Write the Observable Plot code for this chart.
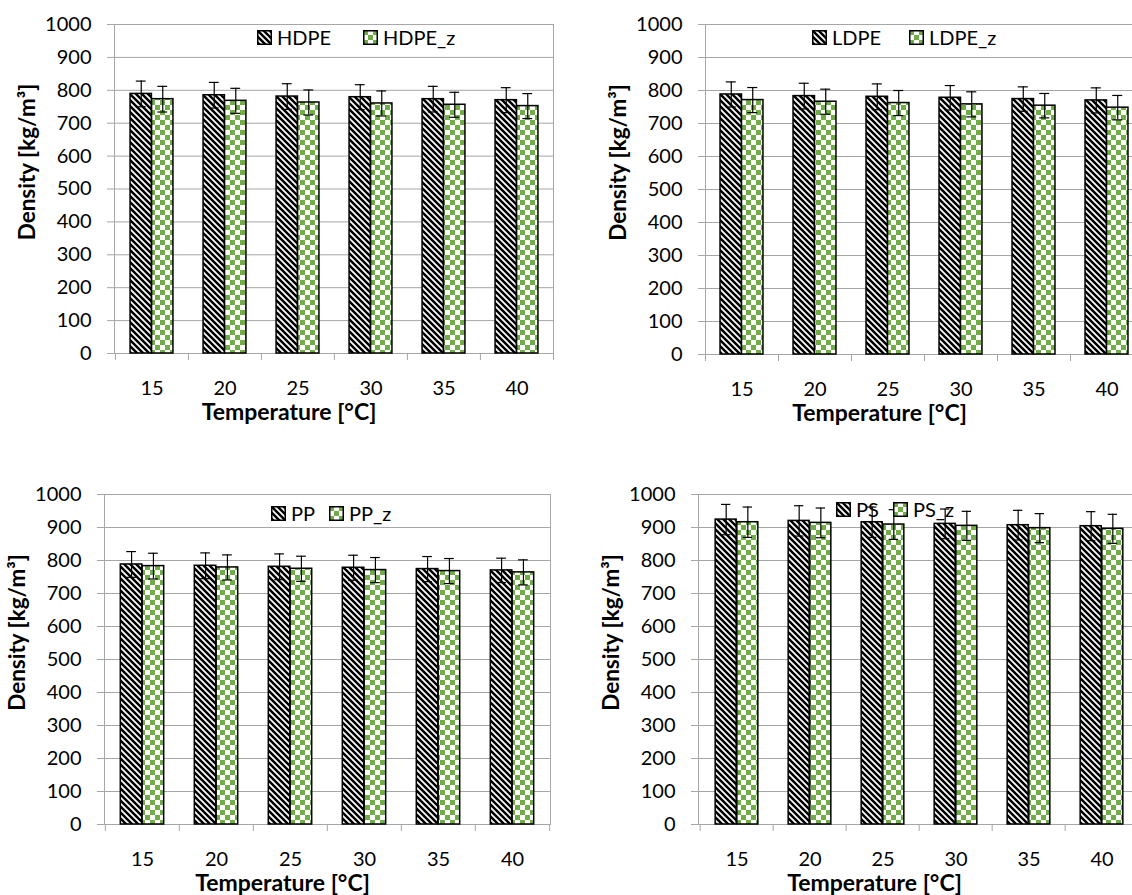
<!DOCTYPE html>
<html>
<head>
<meta charset="utf-8">
<script src="https://cdn.jsdelivr.net/npm/d3@7"></script>
<script src="https://cdn.jsdelivr.net/npm/@observablehq/plot@0.6"></script>
<style>
html, body { margin: 0; padding: 0; background: #fff; overflow: hidden; }
#root { position: relative; width: 1132px; height: 895px; overflow: hidden; font-family: Lato, "Open Sans", sans-serif; }
.panel { position: absolute; }
.panel svg { max-width: none !important; }
.legend-item { position: absolute; display: flex; align-items: center; height: 20px; font-size: 20px; color: #000; white-space: nowrap; line-height: 20px; font-family: Lato, sans-serif; }
.legend-item svg { margin-right: 5px; display: block; }
</style>
</head>
<body>
<svg width="0" height="0" style="position:absolute">
  <defs>
    <pattern id="hatch" patternUnits="userSpaceOnUse" width="6" height="6">
      <rect width="6" height="6" fill="#fff"/>
      <path d="M-1,-1 L7,7 M-1,5 L1,7 M5,-1 L7,1" stroke="#000" stroke-width="2.5"/>
    </pattern>
    <pattern id="checker" patternUnits="userSpaceOnUse" width="10" height="10">
      <rect width="10" height="10" fill="#fff"/>
      <rect width="5" height="5" fill="#70ad47"/>
      <rect x="5" y="5" width="5" height="5" fill="#70ad47"/>
    </pattern>
  </defs>
</svg>
<div id="root"></div>
<script>
// ---- data ----
const temps = ["15", "20", "25", "30", "35", "40"];
const yTicks = [0, 100, 200, 300, 400, 500, 600, 700, 800, 900, 1000];
const xTitle = "Temperature [°C]";
const yTitle = "Density [kg/m³]";

const seriesNames = [["HDPE", "HDPE_z"], ["LDPE", "LDPE_z"], ["PP", "PP_z"], ["PS", "PS_z"]];

const hdpe      = [789, 785, 781, 779, 773, 770];
const hdpeErr   = [39, 39, 39, 38, 39, 38];
const hdpeZ     = [773, 768, 763, 760, 756, 752];
const hdpeZErr  = [39, 38, 38, 38, 38, 38];

const ldpe      = [788, 783, 781, 778, 774, 770];
const ldpeErr   = [38, 39, 39, 37, 37, 38];
const ldpeZ     = [771, 766, 762, 758, 754, 748];
const ldpeZErr  = [38, 38, 38, 38, 37, 37];

const pp        = [788, 784, 781, 778, 774, 770];
const ppErr     = [39, 39, 39, 38, 38, 37];
const ppZ       = [783, 779, 775, 771, 768, 764];
const ppZErr    = [39, 38, 38, 38, 38, 38];

const ps        = [924, 920, 916, 911, 907, 904];
const psErr     = [46, 46, 46, 45, 45, 44];
const psZ       = [916, 914, 909, 905, 898, 896];
const psZErr    = [46, 45, 45, 44, 44, 44];

const panelValues = [
  [[hdpe, hdpeErr], [hdpeZ, hdpeZErr]],
  [[ldpe, ldpeErr], [ldpeZ, ldpeZErr]],
  [[pp, ppErr], [ppZ, ppZErr]],
  [[ps, psErr], [psZ, psZErr]]
];

// ---- layout ----
const layouts = [
  {left: 0,   top: 0,   W: 566, H: 430, ml: 114, mr: 13, mt: 24, mb: 77, legend: [257, 363], legendY: 37},
  {left: 566, top: 0,   W: 590, H: 430, ml: 139, mr: 13, mt: 24, mb: 76, legend: [812, 909], legendY: 37},
  {left: 0,   top: 470, W: 566, H: 425, ml: 104, mr: 16, mt: 24, mb: 71, legend: [271, 329], legendY: 513},
  {left: 566, top: 470, W: 590, H: 425, ml: 132, mr: 16, mt: 24, mb: 71, legend: [836, 893], legendY: 509}
];
const patterns = ["url(#hatch)", "url(#checker)"];
const gray = "#a6a6a6";

const root = document.getElementById("root");

function rows(vals, errs) {
  return temps.map((t, i) => ({temp: t, value: vals[i], err: errs[i]}));
}

layouts.forEach((L, pi) => {
  const b = (L.W - L.ml - L.mr) / temps.length;
  const group = b / 1.7;
  const p0 = (b - group) / 2;
  const w = group / 2;
  const cap = 5;

  const marks = [
    Plot.gridY({ticks: yTicks, stroke: gray, strokeOpacity: 1, strokeWidth: 1}),
    Plot.frame({stroke: gray, strokeWidth: 1})
  ];

  panelValues[pi].forEach(([vals, errs], si) => {
    const data = rows(vals, errs);
    const insL = si === 0 ? p0 : p0 + w;
    const insR = si === 0 ? p0 + w : p0;
    marks.push(
      Plot.barY(data, {x: "temp", y: "value", fill: patterns[si], stroke: "#000", strokeWidth: 1.5,
        insetLeft: insL, insetRight: insR})
    );
  });
  panelValues[pi].forEach(([vals, errs], si) => {
    const data = rows(vals, errs);
    const insL = si === 0 ? p0 : p0 + w;
    const center = insL + w / 2;
    marks.push(
      Plot.ruleX(data, {x: "temp", y1: d => d.value - d.err, y2: d => d.value + d.err,
        dx: center - b / 2, stroke: "#000", strokeWidth: 1.2}),
      Plot.tickY(data, {x: "temp", y: d => d.value + d.err, insetLeft: center - cap, insetRight: b - center - cap,
        stroke: "#000", strokeWidth: 1.2}),
      Plot.tickY(data, {x: "temp", y: d => d.value - d.err, insetLeft: center - cap, insetRight: b - center - cap,
        stroke: "#000", strokeWidth: 1.2})
    );
  });

  marks.push(
    Plot.axisY({ticks: yTicks, tickFormat: d => String(d), tickSize: 7, tickPadding: 16, fontSize: 20, stroke: gray, fill: "#000", label: null}),
    Plot.axisX({tickSize: 0, tickPadding: 27, fontSize: 20, fill: "#000", label: null}),
    Plot.axisX({tickSize: 7, tickFormat: () => "", dx: -b / 2, stroke: gray, label: null}),
    Plot.axisX({ticks: [temps[temps.length - 1]], tickSize: 7, tickFormat: () => "", dx: b / 2, stroke: gray, label: null}),
    Plot.text([xTitle], {frameAnchor: "bottom", lineAnchor: "middle", textAnchor: "middle", dy: 59, dx: -45,
      fontSize: 23, fontWeight: "bold", fill: "#000"}),
    Plot.text([yTitle], {frameAnchor: "left", lineAnchor: "middle", textAnchor: "middle", dx: -87, dy: -27, rotate: -90,
      fontSize: 22.5, fontWeight: "bold", fill: "#000"})
  );

  const chart = Plot.plot({
    width: L.W, height: L.H,
    marginLeft: L.ml, marginRight: L.mr, marginTop: L.mt, marginBottom: L.mb,
    style: {fontFamily: "Lato, sans-serif", fontSize: "20px", color: "#000", background: "transparent", overflow: "visible", maxWidth: "none"},
    x: {domain: temps, padding: 0, label: null},
    y: {domain: [0, 1000], label: null},
    marks
  });
  const holder = document.createElement("div");
  holder.className = "panel";
  holder.style.left = L.left + "px";
  holder.style.top = L.top + "px";
  holder.style.width = L.W + "px";
  holder.style.height = L.H + "px";
  holder.appendChild(chart);
  root.appendChild(holder);

  // legend
  seriesNames[pi].forEach((name, si) => {
    const item = document.createElement("div");
    item.className = "legend-item";
    item.style.left = L.legend[si] + "px";
    item.style.top = (L.legendY - 10) + "px";
    item.innerHTML = `<svg width="15" height="15"><rect x="0.75" y="0.75" width="13.5" height="13.5" fill="${patterns[si]}" stroke="#000" stroke-width="1.5"/></svg><span>${name}</span>`;
    root.appendChild(item);
  });
});
</script>
</body>
</html>
